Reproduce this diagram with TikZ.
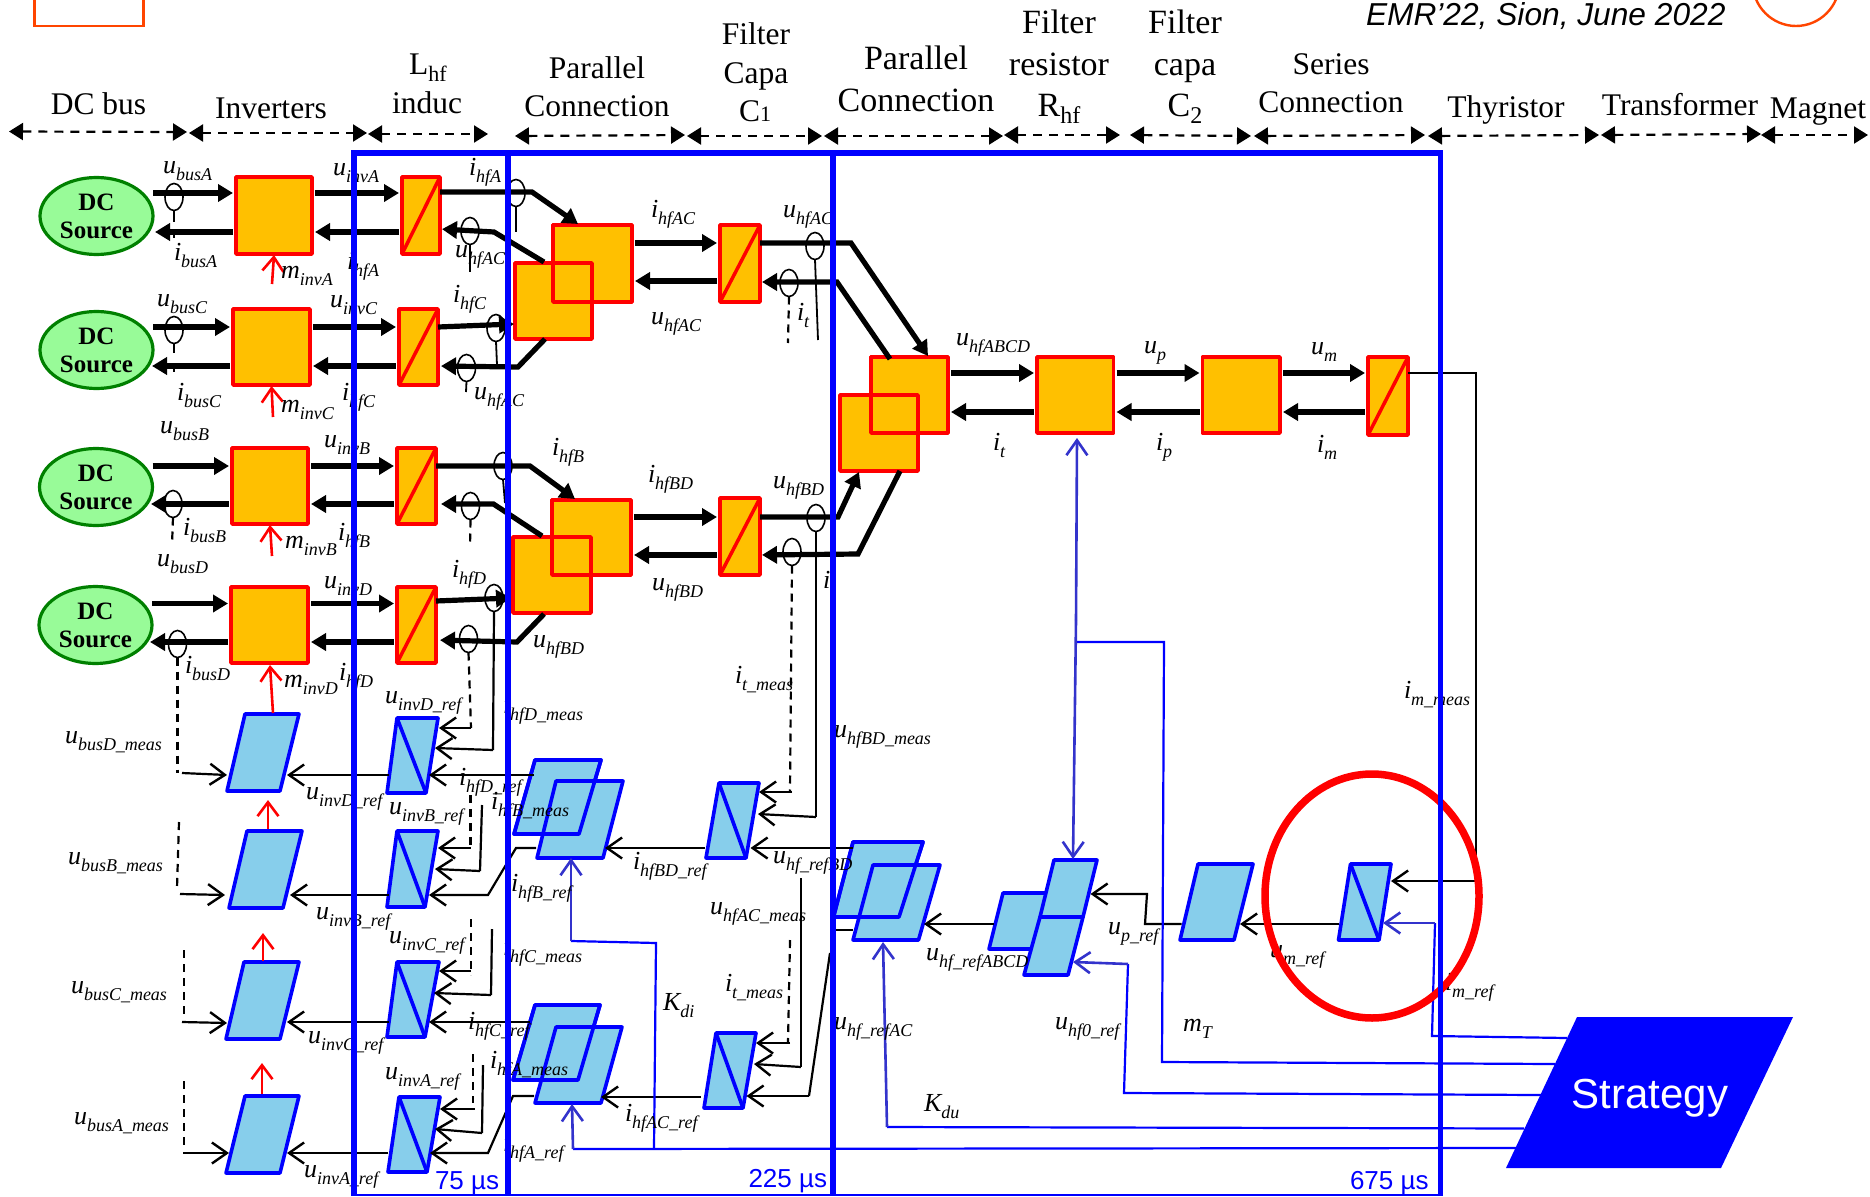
\documentclass[tikz,border=0pt]{standalone}
\usepackage{fontspec}
\setmainfont{Liberation Serif}
\newfontfamily\arialf{Liberation Sans}
\usetikzlibrary{arrows.meta,shapes.geometric,calc}
\definecolor{obox}{HTML}{FFC000}
\definecolor{cbox}{HTML}{87CEEB}
\definecolor{ablue}{HTML}{3333CC}
\definecolor{sgreen}{HTML}{98FB98}
\definecolor{dgreen}{HTML}{008000}
\definecolor{logored}{HTML}{FF4500}
\tikzset{
 orangebox/.style={draw=red,fill=obox,line width=3.5pt,inner sep=0,outer sep=0,rectangle,line join=round},
 ctlshape/.style={draw=blue,fill=cbox,line width=3.6pt,line join=round},
 ctlline/.style={draw=blue,line width=3.6pt,line join=round},
 srcnode/.style={ellipse,draw=dgreen,fill=sgreen,line width=3.2pt,minimum width=113pt,minimum height=77pt,inner sep=0,outer sep=0,align=center,font=\fontsize{25}{29}\selectfont\bfseries},
 sensor/.style={ellipse,draw=black,line width=1.6pt,minimum width=18pt,minimum height=27pt,inner sep=0,outer sep=0},
 pw/.style={line width=5.2pt,line join=miter,-{Triangle[length=15pt,width=17pt]}},
 pwl/.style={line width=5.2pt,line join=miter},
 gp/.style={shorten <=3pt,shorten >=3pt},
 ctl/.style={line width=2.2pt,-{Straight Barb[length=15pt,width=21pt,line width=2.4pt]}},
 ctll/.style={line width=2.2pt},
 dsh/.style={line width=2.2pt,dash pattern=on 8pt off 6pt},
 stem/.style={line width=1.8pt},
 redar/.style={draw=red,line width=2.6pt,-{Straight Barb[length=14pt,width=21pt,line width=2.6pt]}},
 bluar/.style={draw=ablue,line width=2.6pt,-{Straight Barb[length=15pt,width=21pt,line width=2.6pt]}},
 wire/.style={draw=blue,line width=2.2pt},
 hdar/.style={line width=2.2pt,dash pattern=on 9pt off 7pt,{Triangle[length=14pt,width=17pt]}-{Triangle[length=14pt,width=17pt]}},
 frameb/.style={draw=blue,line cap=butt},
 txt/.style={inner sep=0,outer sep=0,anchor=base west},
 hdt/.style={inner sep=0,outer sep=0,anchor=base},
}
\newcount\labc
\newcommand{\obx}[5]{\node[orangebox,minimum width={(#4-#2)*1pt},minimum height={(#5-#3)*1pt}] (#1) at ({(#2+#4)/2},{(#3+#5)/2}) {};}
\newcommand{\obxline}[1]{\draw[draw=red,line width=3.5pt,line join=round] (#1.south west) rectangle (#1.north east);}
\newcommand{\conv}[5]{\obx{#1}{#2}{#3}{#4}{#5}\draw[draw=red,line width=3.5pt] (#1.south west) -- (#1.north east);}
% name, xTL, xTR, xBL, xBR, yT, yB
\newcommand{\pgm}[7]{\path[ctlshape] (#2,#6) -- (#3,#6) -- (#5,#7) -- (#4,#7) -- cycle;\node[inner sep=0,outer sep=0,minimum size=0pt] (#1) at ({(#2+#5)/2},{(#6+#7)/2}) {};}
\newcommand{\pgo}[6]{\path[ctlline] (#1,#5) -- (#2,#5) -- (#4,#6) -- (#3,#6) -- cycle;}
\newcommand{\ipg}[7]{\pgm{#1}{#2}{#3}{#4}{#5}{#6}{#7}\path[ctlline] (#2,#6) -- (#5,#7);}
\newcommand{\cc}[3]{\coordinate (#1) at (#2,#3);}
\newcommand{\lb}[4]{\global\advance\labc by 1\node[txt] (lab\the\labc) at (#1,#2) {\fontsize{26}{26}\selectfont\itshape #3\raisebox{-7.5pt}{\fontsize{18}{18}\selectfont\itshape #4}};}
\newcommand{\hd}[4][31.5]{\global\advance\labc by 1\node[hdt] (lab\the\labc) at (#2,#3) {\fontsize{#1}{#1}\selectfont #4};}
\newcommand{\sn}[3]{\node[sensor] (#1) at (#2,#3) {};}
\begin{document}
\begin{tikzpicture}[x=1pt,y=-1pt]
\useasboundingbox (0,0) rectangle (1870,1196);
\clip (0,0) rectangle (1870,1196);
\fill[white] (0,0) rectangle (1870,1196);
% corner logos
\node[draw=logored,line width=2.4pt,rectangle,minimum width=109pt,minimum height=40pt,inner sep=0] (logoR) at (89,6) {};
\node[draw=logored,line width=2.4pt,ellipse,minimum width=87pt,minimum height=88pt,inner sep=0] (logoC) at (1796,-18) {};
\node[txt] (conf) at (1366,26) {\arialf\itshape\fontsize{31.7}{32}\selectfont EMR’22, Sion, June 2022};
% header labels
\hd{98.5}{114.5}{DC bus}
\hd{271}{118.5}{Inverters}
\hd{428}{75}{L\raisebox{-7pt}{\fontsize{22}{22}\selectfont hf}}
\hd{427}{113.5}{induc}
\hd{597}{78.5}{Parallel}
\hd{597}{116.5}{Connection}
\hd{756}{45}{Filter}
\hd{756}{83.5}{Capa}
\hd{755}{121.5}{C{\fontsize{22}{22}\selectfont 1}}
\hd[34]{916}{69.5}{Parallel}
\hd[34]{916}{111.5}{Connection}
\hd[34]{1059}{34}{Filter}
\hd[34]{1059}{75.5}{resistor}
\hd[34]{1059}{116.5}{R\raisebox{-7pt}{\fontsize{24}{24}\selectfont hf}}
\hd[34]{1185}{33.5}{Filter}
\hd[34]{1185}{75.5}{capa}
\hd[34]{1185}{116.5}{C\raisebox{-7pt}{\fontsize{24}{24}\selectfont 2}}
\hd{1331}{74.5}{Series}
\hd{1331}{112.5}{Connection}
\hd{1506}{117.5}{Thyristor}
\hd{1680}{115.5}{Transformer}
\hd{1818}{118.5}{Magnet}
% header extents
\cc{e0}{9}{131.5}\cc{e1}{187}{132}\cc{e2}{189}{133}\cc{e3}{367}{133}\cc{e4}{368}{134}\cc{e5}{488}{134}
\cc{e6}{515}{136}\cc{e7}{685}{135}\cc{e8}{687}{136}\cc{e9}{822}{136}\cc{e10}{824}{136}\cc{e11}{1003}{136}
\cc{e12}{1004}{135}\cc{e13}{1120}{135}\cc{e14}{1130}{135}\cc{e15}{1251}{136}\cc{e16}{1254}{136}\cc{e17}{1425}{135}
\cc{e18}{1428}{136}\cc{e19}{1599}{135}\cc{e20}{1601}{135}\cc{e21}{1761}{134}\cc{e22}{1761}{135}\cc{e23}{1868}{135}
\foreach \a/\b in {e0/e1,e2/e3,e4/e5,e6/e7,e8/e9,e10/e11,e12/e13,e14/e15,e16/e17,e18/e19,e20/e21,e22/e23}{\draw[hdar] (\a) -- (\b);}
% strategy
\fill[blue] (1577,1017) -- (1793,1017) -- (1721,1168) -- (1506,1168) -- cycle;
\node[text=white,font=\arialf\fontsize{42}{42}\selectfont,inner sep=0] (strat) at (1650,1098) {Strategy};
% power blocks
\node[srcnode] (srcA) at (96.5,216) {DC\\[-1pt]Source};
\node[srcnode] (srcC) at (96.5,350) {DC\\[-1pt]Source};
\node[srcnode] (srcB) at (96,487) {DC\\[-1pt]Source};
\node[srcnode] (srcD) at (95.5,625) {DC\\[-1pt]Source};
\obx{invA}{236}{177}{312}{254}\conv{indA}{402}{177}{440}{254}
\obx{invC}{233}{309}{310}{385}\conv{indC}{399}{309}{438}{385}
\obx{invB}{232}{448}{308}{524}\conv{indB}{397}{448}{436}{524}
\obx{invD}{231}{587}{308}{663}\conv{indD}{397}{587}{436}{663}
\obx{parA1}{553}{225}{632}{302}\obx{parA2}{515}{263}{592}{339}\obxline{parA1}
\obx{parB1}{552}{500}{631}{575}\obx{parB2}{513}{537}{591}{613}\obxline{parB1}
\conv{capAC}{720}{225}{760}{302}\conv{capBD}{720}{498}{760}{575}
\obx{parT1}{871}{357}{948}{433}\obx{parT2}{840}{395}{918}{471}\obxline{parT1}
\obx{resR}{1037}{357}{1113.5}{433}\obx{capC}{1202.5}{357}{1280}{433}\conv{conS}{1368}{357}{1408}{435}
% thick arrows: row by row
\foreach \s/\i/\n/\ya/\yb in {A/A/A/193/232,C/C/C/327/366,B/B/B/466/504,D/D/D/603.5/642}{
 \draw[pw,gp] (src\s.east |- 0,\ya) ++(-3,0) -- (inv\i.west |- 0,\ya);
 \draw[pw,gp] (inv\i.west |- 0,\yb) -- ++(-84,0);
 \draw[pw,gp] (inv\i.east |- 0,\ya) -- (ind\n.west |- 0,\ya);
 \draw[pw,gp] (ind\n.west |- 0,\yb) -- (inv\i.east |- 0,\yb);
}
% to the first parallel connections
\cc{kA}{532}{192}\cc{tipA}{578}{224}\cc{rA}{544}{262}\cc{qA}{494}{232}
\draw[pw] (indA.east |- 0,192) -- (kA) -- (tipA);
\draw[pw,shorten >=2pt] (rA) -- (qA) -- (indA.east |- 0,229);
\cc{tipC}{514}{324}\cc{rC}{545}{339}\cc{qC}{518}{367}
\draw[pw] (indC.east |- 0,327) -- (tipC);
\draw[pw,shorten >=3pt] (rC) -- (qC) -- (indC.east |- 0,366);
\cc{kB}{530}{466}\cc{tipB}{575}{499}\cc{rB}{542}{536}\cc{qB}{493.5}{504}
\draw[pw] (indB.east |- 0,466) -- (kB) -- (tipB);
\draw[pw,shorten >=5pt] (rB) -- (qB) -- (indB.east |- 0,504);
\cc{tipD}{511}{598}\cc{rD}{544}{614}\cc{qD}{517}{642}
\draw[pw] (indD.east |- 0,601) -- (tipD);
\draw[pw,shorten >=4pt] (rD) -- (qD) -- (indD.east |- 0,640);
% parallel -> caps
\draw[pw,gp] (parA1.east |- 0,243) -- (capAC.west |- 0,243);
\draw[pw,gp] (capAC.west |- 0,281) -- (parA1.east |- 0,281);
\draw[pw,gp] (parB1.east |- 0,517) -- (capBD.west |- 0,517);
\draw[pw,gp] (capBD.west |- 0,555) -- (parB1.east |- 0,555);
\cc{kU}{851}{243}\cc{tU}{928}{356}\cc{rU}{890}{359}\cc{qU}{837}{282}
\draw[pw] (capAC.east |- 0,243) -- (kU) -- (tU);
\draw[pw,shorten >=2pt] (rU) -- (qU) -- (capAC.east |- 0,282);
\cc{kL}{838}{517}\cc{tL}{859}{472}\cc{rL}{900}{471}\cc{qL}{858}{554}
\draw[pw] (capBD.east |- 0,517) -- (kL) -- (tL);
\draw[pw,shorten >=2pt] (rL) -- (qL) -- (capBD.east |- 0,555);
% chain
\draw[pw,gp] (parT1.east |- 0,373) -- (resR.west |- 0,373);
\draw[pw,gp] (resR.west |- 0,412) -- (parT1.east |- 0,412);
\draw[pw,gp] (resR.east |- 0,373) -- (capC.west |- 0,373);
\draw[pw,gp] (capC.west |- 0,412) -- (resR.east |- 0,412);
\draw[pw,gp] (capC.east |- 0,373) -- (conS.west |- 0,373);
\draw[pw,gp] (conS.west |- 0,412) -- (capC.east |- 0,412);
% sensors
\sn{sbA}{174}{197}\sn{sbC}{174}{330}\sn{sbB}{173}{504}\sn{sbD}{177.5}{644}
\sn{shA}{516}{193}\sn{suA}{470}{231}\sn{shC}{496}{328}\sn{suC}{466.5}{368}
\sn{shB}{503}{466}\sn{suB}{470.5}{506}\sn{shD}{494}{598}\sn{suD}{468.5}{639}
\sn{sUAC}{815}{246}\sn{siAC}{789}{283}\sn{sUBD}{816}{518}\sn{siBD}{792}{552}
\cc{a1}{174}{222}\cc{a2}{174}{235}\cc{a3}{174}{238}\cc{a4}{174}{353}\cc{a5}{174}{366}\cc{a6}{174}{372}
\draw[stem] (sbA.south) -- (a1);\draw[stem] (a2) -- (a3);\draw[stem] (sbC.south) -- (a4);\draw[stem] (a5) -- (a6);
\cc{a7}{516}{232}\cc{a8}{470}{272}\cc{a9}{497}{365}\cc{a10}{466}{392}\cc{a11}{505}{503}
\draw[stem] (shA.south) -- (a7);\draw[stem] (suA.south) -- (a8);\draw[stem] (shC.south) -- (a9);\draw[stem] (suC.south) -- (a10);\draw[stem] (shB.south) -- (a11);
\cc{a12}{818}{340}\draw[stem] (sUAC.south) -- (a12);
\cc{a13}{788}{343}\draw[dsh] (siAC.south) -- (a13);
\cc{a14}{172}{545}\draw[dsh] (sbB.south) -- (a14);
\cc{a15}{470}{547}\draw[dsh] (suB.south) -- (a15);
% control blocks, left column
\pgm{mD}{245}{299}{227}{280}{714}{791}
\pgm{mB}{247}{302}{229}{283}{831}{908}
\pgm{mC}{244}{299}{226}{280}{962}{1039}
\pgm{mA}{245}{299}{226}{280}{1096}{1173}
\ipg{cD}{397}{438}{387}{426}{718}{793}
\ipg{cB}{397}{438}{387}{425}{831}{907}
\ipg{cC}{397}{439}{387}{425}{962}{1037}
\ipg{cA}{399}{440}{388}{427}{1097}{1172}
% current controller pairs
\pgm{pI1}{535}{601}{514}{579}{760}{834}\pgm{pI2}{556}{623}{537}{603}{781}{858}\pgo{535}{601}{514}{579}{760}{834}
\pgm{pJ1}{535}{600}{513}{578}{1005}{1080}\pgm{pJ2}{556}{622}{535}{601}{1027}{1103}\pgo{535}{600}{513}{578}{1005}{1080}
\ipg{cBD}{719}{759}{706}{746}{783}{858}
\ipg{cAC}{716}{756}{704}{743}{1033}{1108}
\pgm{pU1}{853}{923}{833.5}{899}{842}{917}\pgm{pU2}{873}{940}{853}{918.5}{865}{940}\pgo{853}{923}{833.5}{899}{842}{917}
\pgm{pR1}{1003}{1060}{989}{1048}{893}{949}
\pgm{pR3}{1040}{1083}{1024}{1068}{917}{975}
\pgm{pR2}{1054}{1097}{1040}{1083}{860}{917}
\path[ctlline] (1040,917) -- (1083,917);
\pgm{pP}{1198}{1253}{1180}{1234}{864}{940}
\ipg{cM}{1350.5}{1391}{1338.5}{1379}{864}{940}
% red arrows
\cc{m0}{272}{284}\cc{m1}{273}{417}\cc{m2}{272}{556}
\draw[redar] (m0) -- (invA.south |- 0,255);
\draw[redar] (m1) -- (invC.south |- 0,386);
\draw[redar] (m2) -- (invB.south |- 0,525);
\cc{m3}{273}{713}\cc{m4}{270}{665}\draw[redar] (m3) -- (m4);
\cc{m5}{268}{829}\cc{m6}{268}{800}\draw[redar] (m5) -- (m6);
\cc{m7}{263}{961}\cc{m8}{263}{933}\draw[redar] (m7) -- (m8);
\cc{m9}{262}{1094}\cc{m10}{262}{1063}\draw[redar] (m9) -- (m10);
% control wires: row D
\cc{d0}{471}{728}\cc{d1}{439}{728}\cc{d2}{493}{750}\cc{d3}{435}{748}\cc{d4}{534}{775}\cc{d5}{429}{775}\cc{d6}{389}{775}\cc{d7}{287}{775}\cc{d8}{177.5}{773}\cc{d9}{182}{773}\cc{d10}{227}{775}
\draw[dsh] (suD.south) -- (d0);\draw[ctl] (d0) -- (d1);\draw[ctll] (shD.south) -- (d2);\draw[ctl] (d2) -- (d3);
\draw[ctl] (d4) -- (d5);\draw[ctl] (d6) -- (d7);\draw[dsh] (sbD.south) -- (d8);\draw[ctl] (d9) -- (d10);
% row B
\cc{b0}{470.5}{795}\cc{b1}{470.5}{848}\cc{b2}{438}{848}\cc{b3}{482}{805}\cc{b4}{480}{871}\cc{b5}{435}{869}\cc{b6}{536}{848}\cc{b7}{516}{848}\cc{b8}{488}{895}\cc{b9}{429}{895}\cc{b10}{389}{895}\cc{b11}{290}{895}\cc{b12}{179}{822}\cc{b13}{177}{888}\cc{b14}{180}{894}\cc{b15}{225}{895}
\draw[dsh] (b0) -- (b1);\draw[ctl] (b1) -- (b2);\draw[ctll] (b3) -- (b4);\draw[ctl] (b4) -- (b5);
\draw[ctl] (b6) -- (b7) -- (b8) -- (b9);\draw[ctl] (b10) -- (b11);\draw[dsh] (b12) -- (b13);\draw[ctl] (b14) -- (b15);
% row C
\cc{c0}{184}{950}\cc{c1}{184}{1018}\cc{c2}{182}{1022}\cc{c3}{227}{1023}\cc{c4}{530}{1022}\cc{c5}{429}{1022}\cc{c6}{389}{1022}\cc{c7}{287}{1022}\cc{c8}{471}{919}\cc{c9}{471}{975}\cc{c10}{471}{971}\cc{c11}{439}{971}\cc{c12}{492}{929}\cc{c13}{491}{995}\cc{c14}{434}{993}
\draw[dsh] (c0) -- (c1);\draw[ctl] (c2) -- (c3);\draw[ctl] (c4) -- (c5);\draw[ctl] (c6) -- (c7);\draw[dsh] (c8) -- (c9);\draw[ctl] (c10) -- (c11);\draw[ctll] (c12) -- (c13);\draw[ctl] (c13) -- (c14);
% row A
\cc{f0}{184}{1081}\cc{f1}{184}{1146}\cc{f2}{183}{1153}\cc{f3}{229}{1153}\cc{f4}{534}{1096}\cc{f5}{513}{1096}\cc{f6}{488}{1153}\cc{f7}{430}{1153}\cc{f8}{388}{1153}\cc{f9}{287}{1153}\cc{f10}{473}{1054}\cc{f11}{473}{1103}\cc{f12}{474.5}{1109}\cc{f13}{440}{1109}\cc{f14}{483}{1065}\cc{f15}{482}{1133}\cc{f16}{435}{1129}
\draw[dsh] (f0) -- (f1);\draw[ctl] (f2) -- (f3);\draw[ctl] (f4) -- (f5) -- (f6) -- (f7);\draw[ctl] (f8) -- (f9);\draw[dsh] (f10) -- (f11);\draw[ctl] (f12) -- (f13);\draw[ctll] (f14) -- (f15);\draw[ctl] (f15) -- (f16);
% middle control
\cc{g0}{705}{848}\cc{g1}{605}{848}\cc{g2}{701}{1097}\cc{g3}{601}{1097}
\draw[ctl] (g0) -- (g1);\draw[ctl] (g2) -- (g3);
\cc{h0}{853}{848}\cc{h1}{750.5}{848}\cc{h2}{853}{930}\cc{h3}{835}{930}\cc{h4}{830}{953}\cc{h5}{809}{1096}\cc{h6}{746.5}{1096}
\draw[ctl] (h0) -- (h1);\draw[ctll] (h2) -- (h3);\draw[ctll] (h4) -- (h5);\draw[ctl] (h5) -- (h6);
\cc{h7}{801}{878}\cc{h8}{801}{1067}\cc{h9}{754}{1064}
\draw[ctll] (h7) -- (h8);\draw[ctl] (h8) -- (h9);
\cc{h10}{790}{940}\cc{h11}{788}{1043}\cc{h12}{790}{1043}\cc{h13}{756}{1043}
\draw[dsh] (h10) -- (h11);\draw[ctl] (h12) -- (h13);
\cc{h14}{790}{792}\cc{h15}{792}{792}\cc{h16}{759}{792}
\draw[dsh] (siBD.south) -- (h14);\draw[ctl] (h15) -- (h16);
\cc{h17}{816}{817}\cc{h18}{758}{814}
\draw[ctll] (sUBD.south) -- (h17);\draw[ctl] (h17) -- (h18);
% right control
\cc{j0}{994}{924}\cc{j1}{924}{924}\draw[ctl] (j0) -- (j1);
\cc{j2}{1181.5}{924}\cc{j3}{1145}{924}\cc{j4}{1147}{894}\cc{j5}{1090.5}{894}\draw[ctl] (j2) -- (j3) -- (j4) -- (j5);
\cc{j6}{1338.5}{924}\cc{j7}{1240}{924}\draw[ctl] (j6) -- (j7);
\cc{j8}{1476}{373}\cc{j9}{1476}{881}\cc{j10}{1391}{881}\draw[ctll] (conS.east |- 0,373) -- (j8) -- (j9);\draw[ctl] (j9) -- (j10);
% strategy wires and reference arrows
\cc{w0}{1435}{923}\cc{w1}{1432}{1036}\cc{w2}{1567}{1038}\cc{w3}{1383}{923}
\draw[wire] (w2) -- (w1) -- (w0);\draw[bluar] (w0) -- (w3);
\cc{w4}{1555}{1064}\cc{w5}{1162}{1062}\cc{w6}{1164}{642}\cc{w7}{1077}{642}
\draw[wire] (w4) -- (w5) -- (w6) -- (w7);
\cc{w8}{1077}{438}\cc{w9}{1073}{859}\cc{w9a}{1076}{620}
\draw[bluar] (w9a) -- (w8);\draw[bluar] (w9a) -- (w9);
\cc{w10}{1541}{1095}\cc{w11}{1124}{1093}\cc{w12}{1128}{964}\cc{w13}{1073}{962}
\draw[wire] (w10) -- (w11) -- (w12);\draw[bluar] (w12) -- (w13);
\cc{w14}{1524}{1128.5}\cc{w15}{887}{1127}\cc{w16}{883}{942}
\draw[wire] (w14) -- (w15);\draw[bluar] (w15) -- (w16);
\cc{w17}{1516}{1148}\cc{w18}{573}{1149}\cc{w19}{572}{1104}
\draw[wire] (w17) -- (w18);\draw[bluar] (w18) -- (w19);
\cc{w20}{654}{1148}\cc{w21}{656}{943}\cc{w22}{571}{941}\cc{w23}{571}{858}
\draw[wire] (w20) -- (w21) -- (w22);\draw[bluar] (w22) -- (w23);
% signal labels
\lb{163}{173}{u}{busA}\lb{174}{260}{i}{busA}\lb{333}{175}{u}{invA}\lb{469}{175}{i}{hfA}
\lb{455}{257}{u}{hfAC}\lb{281}{278}{m}{invA}\lb{347}{269}{i}{hfA}
\lb{157}{306}{u}{busC}\lb{330}{307}{u}{invC}\lb{453}{302}{i}{hfC}
\lb{177}{400}{i}{busC}\lb{281}{412}{m}{invC}\lb{342}{400}{i}{hfC}\lb{474}{399}{u}{hfAC}
\lb{160}{433}{u}{busB}\lb{183}{535}{i}{busB}\lb{285}{548}{m}{invB}\lb{338}{540}{i}{hfB}\lb{324}{447}{u}{invB}\lb{552}{455}{i}{hfB}
\lb{157}{566}{u}{busD}\lb{452}{577}{i}{hfD}\lb{324}{588}{u}{invD}\lb{533}{647}{u}{hfBD}\lb{185}{673}{i}{busD}\lb{284}{687}{m}{invD}\lb{339}{680}{i}{hfD}
\lb{385}{703}{u}{invD\_ref}\lb{503}{713}{i}{hfD\_meas}\lb{65}{743}{u}{busD\_meas}\lb{459}{785}{i}{hfD\_ref}\lb{306}{799}{u}{invD\_ref}
\lb{389}{814}{u}{invB\_ref}\lb{491}{809}{i}{hfB\_meas}\lb{68}{864}{u}{busB\_meas}\lb{316}{919}{u}{invB\_ref}\lb{511}{891}{i}{hfB\_ref}
\lb{389}{943}{u}{invC\_ref}\lb{503}{955}{i}{hfC\_meas}\lb{71}{993}{u}{busC\_meas}\lb{468}{1029}{i}{hfC\_ref}\lb{308}{1043}{u}{invC\_ref}
\lb{385}{1079}{u}{invA\_ref}\lb{490}{1068}{i}{hfA\_meas}\lb{74}{1124}{u}{busA\_meas}\lb{304}{1177}{u}{invA\_ref}\lb{503}{1151}{i}{hfA\_ref}
\lb{651}{217}{i}{hfAC}\lb{783}{217}{u}{hfAC}\lb{651}{324}{u}{hfAC}\lb{797}{320}{i}{t}\lb{956}{345}{u}{hfABCD}\lb{1144}{353}{u}{p}
\lb{993}{450}{i}{t}\lb{1156}{450}{i}{p}\lb{648}{482}{i}{hfBD}\lb{773}{488}{u}{hfBD}\lb{652}{590}{u}{hfBD}\lb{823}{588}{i}{}
\lb{735}{683}{i}{t\_meas}\lb{834}{737}{u}{hfBD\_meas}
\lb{633}{869}{i}{hfBD\_ref}\lb{773}{863}{u}{hf\_refBD}\lb{710}{914}{u}{hfAC\_meas}\lb{663}{1010}{K}{di}\lb{725}{991}{i}{t\_meas}
\lb{834}{1029}{u}{hf\_refAC}\lb{625}{1121}{i}{hfAC\_ref}\lb{924}{1111}{K}{du}\lb{926}{960}{u}{hf\_refABCD}\lb{1108}{934}{u}{p\_ref}
\lb{1055}{1029}{u}{hf0\_ref}\lb{1183}{1031}{m}{T}\lb{1311}{354}{u}{m}\lb{1317}{452}{i}{m}\lb{1404}{698}{i}{m\_meas}\lb{1270}{957}{u}{m\_ref}\lb{1445}{990}{i}{m\_ref}
% red ring
\node[draw=red,line width=7.5pt,ellipse,minimum width=214pt,minimum height=244pt,inner sep=0] (ring) at (1372,896) {};
% time frames
\cc{fa}{354}{153}\cc{fb}{354}{1196}\cc{fc}{508}{153}\cc{fd}{508}{1196}\cc{fe}{832.5}{153}\cc{ff}{832.5}{1196}\cc{fg}{1440}{153}\cc{fh}{1440}{1196}
\draw[frameb,line width=6pt] (fa) ++(-3,0) -- ($(fg)+(2.5,0)$);
\draw[frameb,line width=6pt] (fa) -- (fb);\draw[frameb,line width=5.5pt] (fc) -- (fd);\draw[frameb,line width=6pt] (fe) -- (ff);\draw[frameb,line width=5pt] (fg) -- (fh);
\cc{fi}{354}{1195}\cc{fj}{1440}{1195}\draw[wire] (fi) -- (fj);
\node[txt,text=blue,font=\arialf\fontsize{26}{26}\selectfont] (t75) at (435,1189) {75 µs};
\node[txt,text=blue,font=\arialf\fontsize{26}{26}\selectfont] (t225) at (748.5,1187) {225 µs};
\node[txt,text=blue,font=\arialf\fontsize{26}{26}\selectfont] (t675) at (1350,1189) {675 µs};
\end{tikzpicture}
\end{document}
